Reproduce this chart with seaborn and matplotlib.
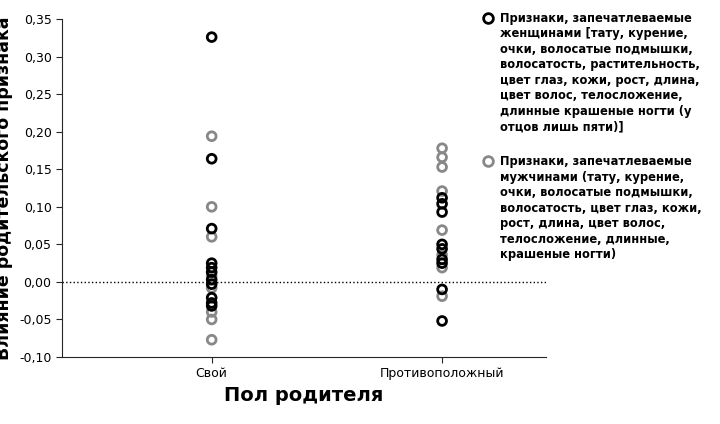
import matplotlib
matplotlib.use('Agg')
import matplotlib.pyplot as plt
import seaborn as sns
import pandas as pd

categories = ['Свой', 'Противоположный']
female_own = [0.326, 0.164, 0.071, 0.025, 0.019, 0.013, 0.003, -0.003, -0.021, -0.028, -0.032]
male_own = [0.194, 0.10, 0.06, 0.008, -0.008, -0.04, -0.05, -0.077]
female_opp = [0.112, 0.104, 0.093, 0.05, 0.044, 0.03, 0.025, -0.01, -0.052]
male_opp = [0.178, 0.166, 0.153, 0.121, 0.069, 0.036, 0.019, -0.019]

label_f = ('Признаки, запечатлеваемые\nженщинами [тату, курение,\nочки, волосатые подмышки,\n'
           'волосатость, растительность,\nцвет глаз, кожи, рост, длина,\nцвет волос, телосложение,\n'
           'длинные крашеные ногти (у\nотцов лишь пяти)]')
label_m = ('Признаки, запечатлеваемые\nмужчинами (тату, курение,\nочки, волосатые подмышки,\n'
           'волосатость, цвет глаз, кожи,\nрост, длина, цвет волос,\nтелосложение, длинные,\nкрашеные ногти)')

rows = []
for v in male_own:
    rows.append((categories[0], v, label_m))
for v in male_opp:
    rows.append((categories[1], v, label_m))
for v in female_own:
    rows.append((categories[0], v, label_f))
for v in female_opp:
    rows.append((categories[1], v, label_f))
df = pd.DataFrame(rows, columns=['sex', 'value', 'group'])

sns.set_style('white')
plt.rcParams['font.family'] = 'DejaVu Sans'
fig = plt.figure(figsize=(7.2, 4.24), dpi=100)
ax = fig.add_axes([0.086, 0.158, 0.672, 0.797])

for grp, col in [(label_m, '#888888'), (label_f, '#000000')]:
    d = df[df.group == grp]
    x = d['sex'].map({categories[0]: 0, categories[1]: 1})
    sns.scatterplot(x=x, y=d['value'], ax=ax, s=40, facecolors='none',
                    edgecolor=col, linewidth=2, label=None)

ax.axhline(0, color='black', linestyle=':', linewidth=1)
ax.set_xlim(-0.65, 1.45)
ax.set_ylim(-0.10, 0.35)
ax.set_xticks([0, 1])
ax.set_xticklabels(categories, fontsize=9, color='black')
ax.set_yticks([-0.10 + 0.05 * i for i in range(10)])
ax.set_yticklabels([f'{-0.10 + 0.05 * i:.2f}'.replace('.', ',') for i in range(10)], fontsize=9, color='black')
ax.tick_params(axis='both', direction='out', length=4, left=True, bottom=True)
for s in ['top', 'right']:
    ax.spines[s].set_visible(False)
ax.set_xlabel('Пол родителя', fontsize=14, fontweight='bold', color='black')
ax.set_ylabel('Влияние родительского признака', fontsize=12.5, fontweight='bold', color='black', labelpad=4)

for yy, col, txt in [(0.958, 'black', label_f), (0.62, '#888888', label_m)]:
    fig.lines.append(plt.Line2D([0.678], [yy], transform=fig.transFigure, marker='o', markersize=7,
                                markerfacecolor='none', markeredgecolor=col, markeredgewidth=2))
    fig.text(0.695, yy + 0.014, txt, fontsize=8.3, fontweight='bold', va='top', ha='left',
             linespacing=1.25, color='black')

fig.savefig('out.png', dpi=100)
